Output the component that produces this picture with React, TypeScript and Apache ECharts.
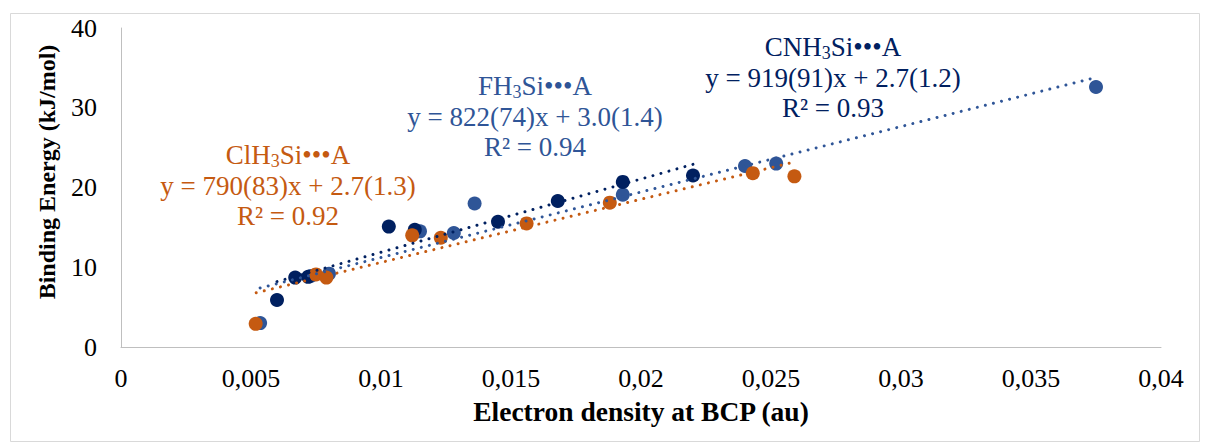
import React, { useEffect, useRef } from "react";
import * as echarts from "echarts";

// ClH3Si•••A (orange)
const clX = [0.00518, 0.0075, 0.0079, 0.0112, 0.0123, 0.0156, 0.0188, 0.0243, 0.0259];
const clY = [2.9, 9.1, 8.7, 14.0, 13.7, 15.5, 18.1, 21.8, 21.4];
// FH3Si•••A (blue)
const fhX = [0.00535, 0.0073, 0.008, 0.0115, 0.0128, 0.0136, 0.0193, 0.024, 0.0252, 0.0375];
const fhY = [3.0, 8.9, 9.2, 14.5, 14.3, 18.0, 19.1, 22.7, 23.0, 32.6];
// CNH3Si•••A (navy)
const cnX = [0.006, 0.0067, 0.0072, 0.0103, 0.0113, 0.0145, 0.0168, 0.0193, 0.022];
const cnY = [5.9, 8.7, 8.8, 15.1, 14.7, 15.7, 18.3, 20.7, 21.5];

// Trend-line end points
const clTrend = [[0.0052, 6.8], [0.0259, 23.2]];
const fhTrend = [[0.00535, 7.4], [0.0375, 33.8]];
const cnTrend = [[0.006, 8.2], [0.022, 22.9]];

const xTicks = { min: 0, max: 0.04, interval: 0.005 };
const yTicks = { min: 0, max: 40, interval: 10 };

const ORANGE = "#C55A11";
const BLUE = "#2F5597";
const NAVY = "#002060";
const SERIF = "Liberation Serif, Times New Roman, serif";

const zip = (xs: number[], ys: number[]) => xs.map((x, i) => [x, ys[i]]);

function annotation(cx: number, y0: number, color: string, formula: string, eq: string, r2: string) {
  const gap = 30;
  const base = { fontFamily: SERIF, fontSize: 27, lineHeight: 26, fill: color };
  return [
    {
      type: "text",
      x: cx,
      y: y0 - 1.5,
      style: {
        text: `{a|${formula}}{s|3}{a|Si•••A}`,
        align: "center",
        verticalAlign: "middle",
        fill: color,
        rich: {
          a: { fontFamily: SERIF, fontSize: 27, fill: color, color, lineHeight: 26 },
          s: {
            fontFamily: SERIF,
            fontSize: 18,
            fill: color,
            color,
            lineHeight: 16,
            padding: [10, 0, 0, 0],
            verticalAlign: "top",
          },
        },
      },
    },
    { type: "text", x: cx, y: y0 + gap, style: { ...base, text: eq, align: "center", verticalAlign: "middle" } },
    { type: "text", x: cx, y: y0 + 2 * gap, style: { ...base, text: r2, align: "center", verticalAlign: "middle" } },
  ];
}

export default function App() {
  const ref = useRef<HTMLDivElement>(null);
  useEffect(() => {
    if (!ref.current) return;
    const chart = echarts.init(ref.current, undefined, { renderer: "svg" });
    const trendLine = (color: string) => ({
      color,
      width: 3,
      type: [0.01, 8.3],
      cap: "round",
    });
    chart.setOption({
      animation: false,
      backgroundColor: "#ffffff",
      grid: { left: 121, right: 47, top: 28, bottom: 96 },
      xAxis: {
        type: "value",
        min: xTicks.min,
        max: xTicks.max,
        interval: xTicks.interval,
        splitLine: { show: false },
        axisTick: { show: false },
        axisLine: { show: true, lineStyle: { color: "#BFBFBF", width: 1 } },
        axisLabel: {
          margin: 18,
          fontFamily: SERIF,
          fontSize: 26,
          color: "#000",
          formatter: (v: number) => parseFloat(v.toFixed(3)).toString().replace(".", ","),
        },
        name: "Electron density at BCP (au)",
        nameLocation: "middle",
        nameGap: 50,
        nameTextStyle: { fontFamily: SERIF, fontSize: 27.5, fontWeight: "bold", color: "#000" },
      },
      yAxis: {
        type: "value",
        min: yTicks.min,
        max: yTicks.max,
        interval: yTicks.interval,
        splitLine: { show: false },
        axisTick: { show: false },
        axisLine: { show: true, lineStyle: { color: "#BFBFBF", width: 1 } },
        axisLabel: { margin: 24, fontFamily: SERIF, fontSize: 26, color: "#000" },
        name: "Binding Energy (kJ/mol)",
        nameLocation: "middle",
        nameGap: 62,
        nameTextStyle: {
          fontFamily: SERIF,
          fontSize: 24,
          fontWeight: "bold",
          color: "#000",
          padding: [0, 0, 0, 31],
        },
      },
      series: [
        { type: "scatter", name: "FH3Si", data: zip(fhX, fhY), symbolSize: 14, itemStyle: { color: BLUE, opacity: 1 }, z: 2 },
        { type: "scatter", name: "CNH3Si", data: zip(cnX, cnY), symbolSize: 14, itemStyle: { color: NAVY, opacity: 1 }, z: 2 },
        { type: "scatter", name: "ClH3Si", data: zip(clX, clY), symbolSize: 14, itemStyle: { color: ORANGE, opacity: 1 }, z: 2 },
        { type: "line", data: cnTrend, showSymbol: false, symbol: "none", lineStyle: trendLine(NAVY), z: 3 },
        { type: "line", data: fhTrend, showSymbol: false, symbol: "none", lineStyle: trendLine(BLUE), z: 3 },
        { type: "line", data: clTrend, showSymbol: false, symbol: "none", lineStyle: trendLine(ORANGE), z: 3 },
      ],
      graphic: [
        {
          type: "rect",
          shape: { x: 10.5, y: 13.5, width: 1189, height: 428 },
          style: { fill: "none", stroke: "#D9D9D9", lineWidth: 1 },
          silent: true,
        },
        ...annotation(288, 156, ORANGE, "ClH", "y = 790(83)x + 2.7(1.3)", "R² = 0.92"),
        ...annotation(535, 87, BLUE, "FH", "y = 822(74)x + 3.0(1.4)", "R² = 0.94"),
        ...annotation(833, 48, NAVY, "CNH", "y = 919(91)x + 2.7(1.2)", "R² = 0.93"),
      ],
    });
    return () => chart.dispose();
  }, []);
  return (
    <div
      ref={ref}
      style={{ position: "fixed", left: 0, top: 0, width: 1208, height: 443, background: "#fff" }}
    />
  );
}
